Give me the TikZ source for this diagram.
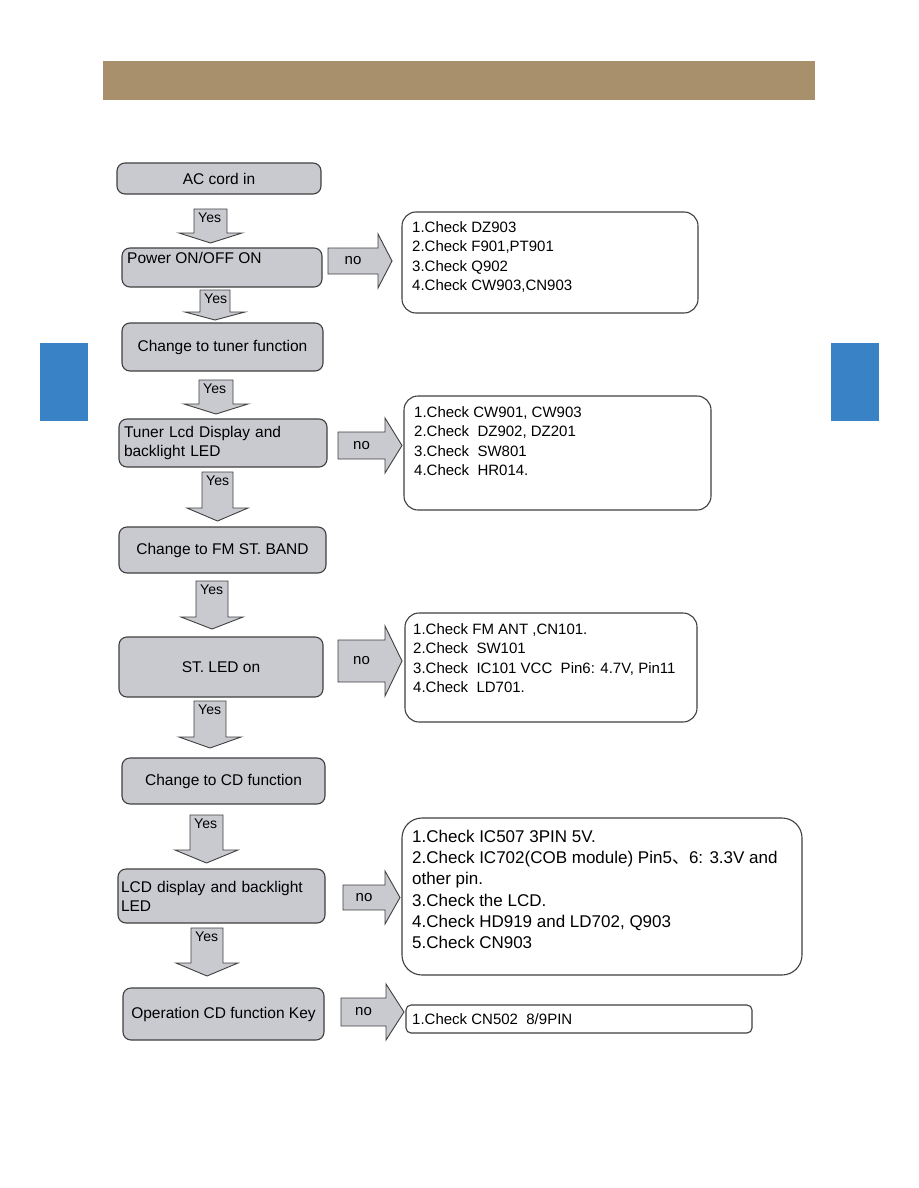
\documentclass[tikz,border=0pt]{standalone}
\usepackage{fontspec}
\setmainfont{Liberation Sans}
\newfontfamily\cjk{Noto Sans CJK SC}
\usetikzlibrary{positioning}
\definecolor{boxgray}{RGB}{201,202,208}
\definecolor{edgegray}{RGB}{64,64,64}
\definecolor{bannerbrown}{RGB}{168,144,108}
\definecolor{tabblue}{RGB}{58,130,198}
% down arrow: name, shaft left, shaft right, top, head base, tip
\newcommand{\yesarrow}[6]{%
  \filldraw[blockarrow] (#2,#4) -- (#3,#4) -- (#3,#5) -- ({#3+15},#5)
    -- ({(#2+#3)/2},#6) -- ({#2-15},#5) -- (#2,#5) -- cycle;
  \node[yeslabel] (#1) at ({#2+4},{#4+4}) {Yes};}
% right arrow: name, shaft left, shaft right, top, bottom, tip
\newcommand{\noarrow}[6]{%
  \filldraw[blockarrow] (#2,#4) -- (#3,#4) -- (#3,{#4-14})
    -- (#6,{(#4+#5)/2}) -- (#3,{#5+14}) -- (#3,#5) -- (#2,#5) -- cycle;
  \node[nolabel] (#1) at ({(#2+#3)/2},{(#4+#5)/2}) {no};}

\begin{document}
\begin{tikzpicture}[x=1pt,y=-1pt,
    flowbox/.style={draw=edgegray,fill=boxgray,line width=1.1pt,rounded corners=8pt,
      inner sep=0pt,font=\fontsize{15.5}{19}\selectfont},
    leftbox/.style={flowbox,inner xsep=5pt,align=left},
    checkbox/.style={draw=edgegray,fill=white,line width=1.1pt,rounded corners=14pt},
    checktext/.style={anchor=north west,inner sep=0pt,align=left,
      font=\fontsize{15}{19.2}\selectfont},
    blockarrow/.style={draw=edgegray,fill=boxgray,line width=0.9pt,line join=miter},
    yeslabel/.style={anchor=north west,inner sep=0pt,font=\fontsize{14}{16}\selectfont},
    nolabel/.style={inner sep=0pt,font=\fontsize{15}{17}\selectfont}]
    \fill[white] (0,0) rectangle (918,1188);
    \useasboundingbox (0,0) rectangle (918,1188);

    % Page marks
    \fill[bannerbrown] (103,61) rectangle (815,100);
    \fill[tabblue] (40,343) rectangle (88,421);
    \fill[tabblue] (831,343) rectangle (879,421);

    % Main flow
    \node[flowbox,minimum width=204,minimum height=31] (acin) at (219,178.5) {AC cord in};
    \node[flowbox,minimum width=200,minimum height=39] (power) at (222,267.5) {};
    \node[anchor=west,inner sep=0pt,font=\fontsize{15.5}{19}\selectfont] (powertxt) at (127,258) {Power ON/OFF ON};
    \node[flowbox,minimum width=201,minimum height=48] (tuner) at (222.5,347) {Change to tuner function};
    \node[leftbox,text width=198,minimum height=48] (tunerlcd) at (223,443) {Tuner Lcd Display and\\backlight LED};
    \node[flowbox,minimum width=207,minimum height=46] (fmband) at (222.5,550) {Change to FM ST. BAND};
    \node[flowbox,minimum width=204,minimum height=60] (stled) at (221,667) {ST. LED on};
    \node[flowbox,minimum width=203,minimum height=46] (cdfunc) at (223.5,781) {Change to CD function};
    \node[leftbox,inner xsep=3pt,text width=201,minimum height=54] (cdlcd) at (221.5,896) {LCD display and backlight\\LED};
    \node[flowbox,minimum width=201,minimum height=52] (cdkey) at (223.5,1014) {Operation CD function Key};

    % Yes arrows
    \yesarrow{yes1}{194}{227}{209}{233}{243}
    \yesarrow{yes2}{200}{230}{290}{312}{320}
    \yesarrow{yes3}{199}{233}{380}{404}{414}
    \yesarrow{yes4}{202}{233}{472}{508}{521}
    \yesarrow{yes5}{196}{228}{581}{617}{629}
    \yesarrow{yes6}{194}{226}{701}{737}{748}
    \yesarrow{yes7}{190}{223}{815}{850}{863}
    \yesarrow{yes8}{191}{223}{928}{963}{976}

    % No arrows
    \noarrow{no1}{328}{378}{248}{274}{392}
    \noarrow{no2}{338}{385}{432}{459}{402}
    \noarrow{no3}{338}{385}{640}{682}{402}
    \noarrow{no4}{343}{385}{885}{910}{400}
    \noarrow{no5}{341}{386}{998}{1026}{404}

    % Checks
    \node[checkbox,minimum width=296,minimum height=101] (chkpower) at (550,262.5) {};
    \node[checktext] (chkpowertxt) at (412,221.7) {1.Check DZ903\\2.Check F901,PT901\\3.Check Q902\\4.Check CW903,CN903};
    \node[checkbox,minimum width=307,minimum height=114] (chklcd) at (557.5,453) {};
    \node[checktext,font=\fontsize{15}{19.3}\selectfont] (chklcdtxt) at (414,406.5) {1.Check CW901, CW903\\2.Check~ DZ902, DZ201\\3.Check~ SW801\\4.Check~ HR014.};
    \node[checkbox,minimum width=292,minimum height=109] (chkst) at (551,667.5) {};
    \node[checktext] (chksttxt) at (413,623.7) {1.Check FM ANT ,CN101.\\2.Check~ SW101\\3.Check~ IC101 VCC~ Pin6: 4.7V, Pin11\\4.Check~ LD701.};
    \node[checkbox,rounded corners=20pt,minimum width=400,minimum height=157] (chkcd) at (602,896.5) {};
    \node[checktext,font=\fontsize{17}{21.2}\selectfont] (chkcdtxt) at (412,830) {1.Check IC507 3PIN 5V.\\2.Check IC702(COB module) Pin5{\cjk 、}6: 3.3V and\\other pin.\\3.Check the LCD.\\4.Check HD919 and LD702, Q903\\5.Check CN903};
    \node[checkbox,rounded corners=5pt,minimum width=346,minimum height=28] (chkkey) at (579,1019) {};
    \node[checktext,anchor=west] (chkkeytxt) at (412,1019) {1.Check CN502~ 8/9PIN};
\end{tikzpicture}
\end{document}
